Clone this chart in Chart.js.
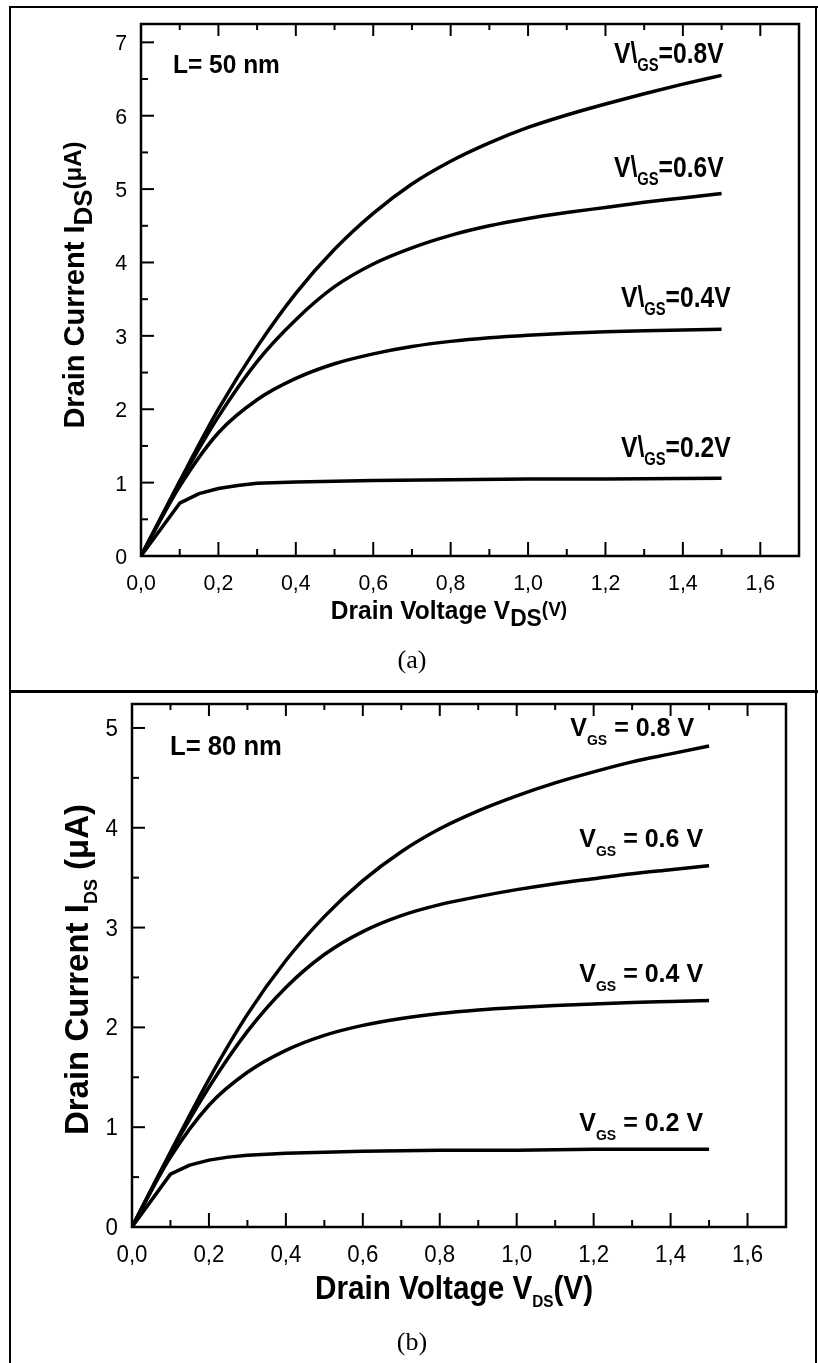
<!DOCTYPE html>
<html><head><meta charset="utf-8">
<script src="https://cdn.jsdelivr.net/npm/chart.js@4.4.0/dist/chart.umd.min.js"></script>
<style>
html,body{margin:0;padding:0;background:#fff;}
#fig{position:relative;width:818px;height:1363px;overflow:hidden;background:#fff;}
.c{position:absolute;left:0;}
.ln{position:absolute;background:#000;}
</style></head><body>
<div id="fig">
<div class="c" style="top:0;width:818px;height:692px"><canvas id="ca" width="818" height="692"></canvas></div>
<div class="c" style="top:692px;width:818px;height:671px"><canvas id="cb" width="818" height="671"></canvas></div>
<div class="ln" style="left:9px;top:6px;width:2px;height:1357px"></div>
<div class="ln" style="left:9px;top:6px;width:809px;height:2px"></div>
<div class="ln" style="left:815px;top:6px;width:2px;height:1357px"></div>
<div class="ln" style="left:9px;top:690px;width:809px;height:3px"></div>
</div>
<script>
// ---------- data ----------
const vds = [0,0.1,0.2,0.3,0.4,0.5,0.6,0.7,0.8,0.9,1.0,1.1,1.2,1.3,1.4,1.5];
const vdsLow = [0,0.1,0.15,0.2,0.25,0.3,0.4,0.5,0.6,0.8,1.0,1.2,1.5];

// panel (a) L = 50 nm
const a_vgs08 = [0,1.02,2.0,2.85,3.58,4.18,4.67,5.07,5.38,5.63,5.84,6.01,6.16,6.30,6.43,6.55];
const a_vgs06 = [0,1.0,1.9,2.65,3.22,3.67,3.98,4.20,4.37,4.50,4.60,4.68,4.75,4.82,4.88,4.94];
const a_vgs04 = [0,0.95,1.68,2.13,2.42,2.62,2.755,2.855,2.925,2.975,3.01,3.035,3.055,3.07,3.08,3.09];
const a_vgs02 = [0,0.72,0.85,0.92,0.96,0.99,1.01,1.02,1.03,1.04,1.05,1.05,1.06];

// panel (b) L = 80 nm
const b_vgs08 = [0,0.75,1.48,2.13,2.67,3.11,3.47,3.76,3.99,4.17,4.32,4.45,4.56,4.66,4.74,4.82];
const b_vgs06 = [0,0.74,1.40,1.96,2.40,2.73,2.96,3.12,3.23,3.31,3.38,3.44,3.49,3.54,3.58,3.62];
const b_vgs04 = [0,0.70,1.22,1.55,1.77,1.92,2.02,2.09,2.14,2.175,2.20,2.22,2.235,2.25,2.26,2.27];
const b_vgs02 = [0,0.53,0.62,0.67,0.70,0.72,0.74,0.75,0.76,0.77,0.77,0.78,0.78];

const vgsValues = ['0.8','0.6','0.4','0.2'];
const xTickStep = 0.2, xMinorStep = 0.1, xMax = 1.7;
const a_yMax = 7.25, b_yMax = 5.24;

// ---------- helpers ----------
const SANS = "'Liberation Sans',Arial,sans-serif";
const SERIF = "'Liberation Serif','Times New Roman',serif";
const fmtX = v => Number(v).toFixed(1).replace('.',',');
const fmtY = v => String(v);

function pts(xs, ys){ return xs.map((x,i)=>({x:x,y:ys[i]})); }
function pw(ctx,p){ ctx.font=p.font; return ctx.measureText(p.t).width*(p.sx||1)+(p.gap||0); }
function richWidth(ctx, parts){ let w=0; for(const p of parts) w+=pw(ctx,p); return w; }
function drawRich(ctx, parts, x, y, align){
  const w = richWidth(ctx, parts);
  let cx = align==='center' ? x-w/2 : (align==='right' ? x-w : x);
  for(const p of parts){
    ctx.save(); ctx.font=p.font; ctx.translate(cx, y+(p.dy||0)); ctx.scale(p.sx||1,1);
    ctx.fillText(p.t, 0, 0); ctx.restore();
    cx += pw(ctx,p);
  }
}

const framePlugin = {
  id:'frame',
  afterDraw(chart, args, opts){
    const ctx = chart.ctx, a = chart.chartArea, xs = chart.scales.x, ys = chart.scales.y;
    const T = opts.texts;
    ctx.save();
    ctx.strokeStyle='#000'; ctx.fillStyle='#000';
    ctx.lineWidth=2.5;
    ctx.strokeRect(a.left, a.top, a.right-a.left, a.bottom-a.top);
    ctx.lineWidth=2;
    const nx = Math.round(xMax/xMinorStep);
    for(let i=1;i<=nx;i++){
      const px=xs.getPixelForValue(i*xMinorStep);
      ctx.beginPath(); ctx.moveTo(px,a.bottom); ctx.lineTo(px,a.bottom-((i%2===0)?14:7)); ctx.stroke();
      ctx.beginPath(); ctx.moveTo(px,a.top); ctx.lineTo(px,a.top+((i%2===0)?12:6)); ctx.stroke();
    }
    const ny = Math.floor(ys.max/0.5+1e-9);
    for(let i=1;i<=ny;i++){
      const py=ys.getPixelForValue(i*0.5);
      ctx.beginPath(); ctx.moveTo(a.left,py); ctx.lineTo(a.left+((i%2===0)?13:7),py); ctx.stroke();
    }
    ctx.textBaseline='alphabetic'; ctx.textAlign='left';
    const tf = T.tickFont;
    xs.ticks.forEach(t=>{
      drawRich(ctx,[{t:fmtX(t.value), font:tf.font, sx:tf.sx}], xs.getPixelForValue(t.value), a.bottom+tf.xDy, 'center');
    });
    ys.ticks.forEach(t=>{
      drawRich(ctx,[{t:fmtY(t.value), font:tf.font, sx:tf.sx}], a.left-tf.yGap, ys.getPixelForValue(t.value)+tf.yDy, 'right');
    });
    drawRich(ctx, T.length.parts, a.left+T.length.dx, a.top+T.length.dy, 'left');
    chart.data.datasets.forEach((ds,i)=>{
      const last = ds.data[ds.data.length-1];
      const L = T.curve[i];
      drawRich(ctx, L.parts, xs.getPixelForValue(last.x)+L.dx, ys.getPixelForValue(last.y)+L.dy, 'right');
    });
    drawRich(ctx, T.xTitle.parts, T.xTitle.x, a.bottom+T.xTitle.dy, 'center');
    drawRich(ctx, T.caption.parts, T.caption.x, a.bottom+T.caption.dy, 'center');
    ctx.translate(T.yTitle.x, (a.top+a.bottom)/2+T.yTitle.dy);
    ctx.rotate(-Math.PI/2);
    drawRich(ctx, T.yTitle.parts, 0, 0, 'center');
    ctx.restore();
  }
};

function makeChart(id, sets, yMax, pad, yWidth, texts){
  const modes = ['monotone','monotone','monotone','default'];
  return new Chart(document.getElementById(id), {
    type:'line',
    data:{ datasets: sets.map((s,i)=>({
      label:'VGS='+vgsValues[i]+'V', data:s, borderColor:'#000', borderWidth:3.5,
      pointRadius:0, fill:false, cubicInterpolationMode:modes[i], tension:modes[i]==='default'?0:0.4,
      borderCapStyle:'butt', borderJoinStyle:'round'
    }))},
    options:{
      responsive:false, animation:false, devicePixelRatio:1,
      layout:{padding:pad},
      plugins:{legend:{display:false}, tooltip:{enabled:false}, frame:{texts:texts}},
      scales:{
        x:{type:'linear', min:0, max:xMax,
          grid:{display:false, drawTicks:false}, border:{display:false},
          ticks:{display:false, stepSize:xTickStep, includeBounds:false, autoSkip:false, callback:fmtX},
          afterFit(s){ s.height=60; }},
        y:{type:'linear', min:0, max:yMax,
          grid:{display:false, drawTicks:false}, border:{display:false},
          ticks:{display:false, stepSize:1, includeBounds:false, callback:fmtY},
          afterFit(s){ s.width=yWidth; }}
      }
    },
    plugins:[framePlugin]
  });
}

const B = (s)=> 'bold '+s+'px '+SANS;
const R = (s)=> s+'px '+SANS;

// ---------- panel (a) ----------
const textsA = {
  tickFont:{font:R(22), sx:0.97, xDy:34, yGap:14, yDy:8},
  length:{dx:32, dy:49, parts:[{t:'L= 50 nm', font:B(25), sx:0.98}]},
  curve: vgsValues.map((v,i)=>({dx:[2,2,9,9][i], dy:[-12,-17,-22,-21][i],
    parts:[{t:'V\\', font:B(30), sx:0.82},{t:'GS', font:B(18), sx:0.82, dy:8},{t:'='+v+'V', font:B(30), sx:0.82}]})),
  xTitle:{x:449, dy:63, parts:[{t:'Drain Voltage V', font:B(25), sx:0.98},{t:'DS', font:B(24), sx:0.95, dy:7},{t:'(V)', font:B(20), sx:0.95, dy:-3}]},
  caption:{x:412, dy:112, parts:[{t:'(a)', font:R(26).replace(SANS,SERIF)}]},
  yTitle:{x:84, dy:-5, parts:[{t:'Drain Current I', font:B(29)},{t:'DS', font:B(26), dy:8},{t:'(μA)', font:B(24), dy:-3}]}
};
makeChart('ca', [pts(vds,a_vgs08), pts(vds,a_vgs06), pts(vds,a_vgs04), pts(vdsLow,a_vgs02)],
  a_yMax, {left:0, top:24, right:19, bottom:76}, 141, textsA);

// ---------- panel (b) ----------
const textsB = {
  tickFont:{font:R(23), sx:0.97, xDy:35, yGap:14, yDy:8},
  length:{dx:38, dy:51, parts:[{t:'L= 80 nm', font:B(27), sx:0.95}]},
  curve: vgsValues.map((v,i)=>({dx:[-15,-6,-6,-6][i], dy:[-10,-19,-18,-18][i],
    parts:[{t:'V', font:B(25)},{t:'GS', font:B(14), dy:9},{t:' = '+v+' V', font:B(25)}]})),
  xTitle:{x:454, dy:72, parts:[{t:'Drain Voltage V', font:B(33), sx:0.9},{t:'DS', font:B(17), sx:0.9, dy:8},{t:'(V)', font:B(33), sx:0.9}]},
  caption:{x:412, dy:123, parts:[{t:'(b)', font:R(26).replace(SANS,SERIF)}]},
  yTitle:{x:88, dy:4, parts:[{t:'Drain Current I', font:B(33)},{t:'DS', font:B(18), dy:9},{t:' (μA)', font:B(33)}]}
};
makeChart('cb', [pts(vds,b_vgs08), pts(vds,b_vgs06), pts(vds,b_vgs04), pts(vdsLow,b_vgs02)],
  b_yMax, {left:0, top:12, right:32, bottom:76}, 132, textsB);
</script>
</body></html>
